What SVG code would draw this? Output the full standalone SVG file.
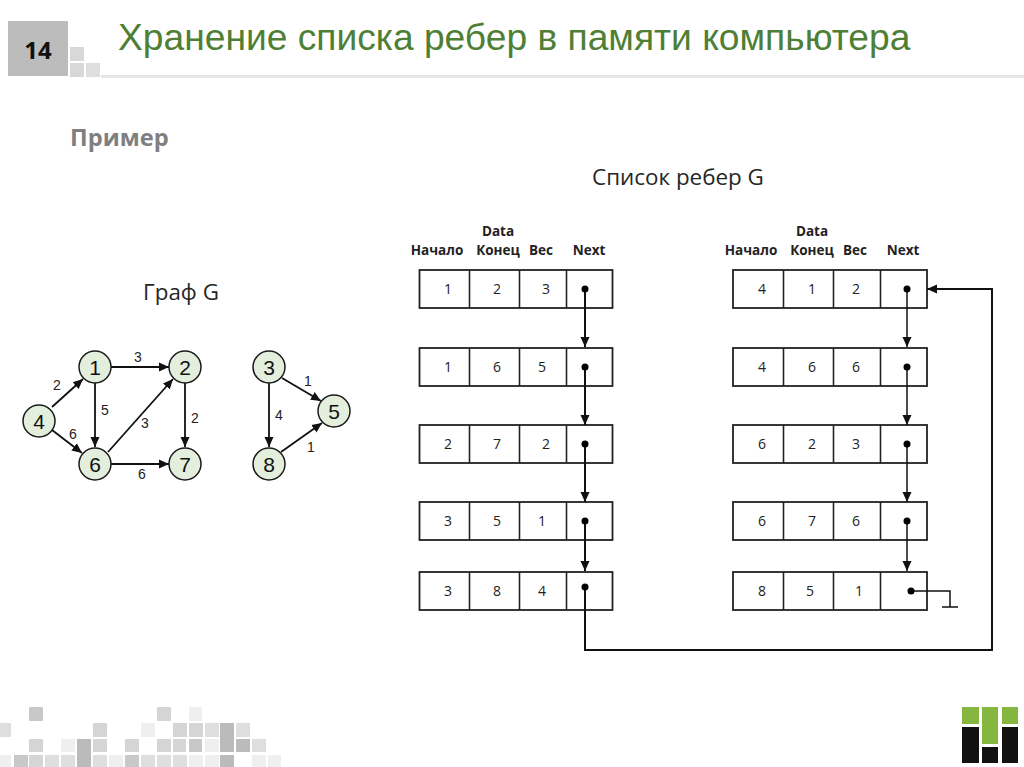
<svg xmlns="http://www.w3.org/2000/svg" width="1024" height="767" viewBox="0 0 1024 767">
<style>
.s{font-family:"Liberation Sans",Arial,sans-serif}
.c{font-family:"Open Sans","Noto Sans",sans-serif;font-size:14px;fill:#222;text-anchor:middle}
.h{font-family:"Open Sans","Noto Sans",sans-serif;font-size:13.500px;font-weight:700;fill:#222;text-anchor:middle}
.t{font-family:"Open Sans","Noto Sans",sans-serif;font-size:22.400px;fill:#262626;text-anchor:middle}
.n circle{fill:#e3efdc;stroke:#1a1a1a;stroke-width:1.5}
.n text{font-family:"Liberation Sans",Arial,sans-serif;font-size:21px;fill:#111;text-anchor:middle}
.w{font-family:"Liberation Sans",Arial,sans-serif;font-size:14px;fill:#222;text-anchor:middle}
.e{stroke:#111;stroke-width:1.800;fill:none;marker-end:url(#a)}
.l{stroke:#111;stroke-width:2;fill:none;marker-end:url(#b)}
.m{stroke:#111;stroke-width:1.500;fill:none;marker-end:url(#b)}
.p{stroke:#111;stroke-width:1.500;fill:none}
.box{fill:#fff;stroke:#222;stroke-width:1.800}
.div{stroke:#222;stroke-width:1.600}
.dot{fill:#000}
</style>
<defs>
<marker id="a" markerUnits="userSpaceOnUse" markerWidth="12" markerHeight="12" refX="10" refY="6" orient="auto"><path d="M0 1.500 L10 6 L0 10.500Z" fill="#111"/></marker>
<marker id="b" markerUnits="userSpaceOnUse" markerWidth="11" markerHeight="10" refX="10" refY="5" orient="auto"><path d="M0 0.500 L10 5 L0 9.500Z" fill="#111"/></marker>
<g id="rowL"><rect class="box" x="419.500" y="0" width="193" height="38"/><line class="div" x1="469.500" y1="0" x2="469.500" y2="38"/><line class="div" x1="519.500" y1="0" x2="519.500" y2="38"/><line class="div" x1="566.500" y1="0" x2="566.500" y2="38"/></g>
<g id="rowR"><rect class="box" x="733" y="0" width="194" height="38"/><line class="div" x1="783.500" y1="0" x2="783.500" y2="38"/><line class="div" x1="833.500" y1="0" x2="833.500" y2="38"/><line class="div" x1="880.500" y1="0" x2="880.500" y2="38"/></g>
</defs>
<rect width="1024" height="767" fill="#fff"/>
<g id="header">
<rect x="8" y="21" width="60" height="55" fill="#bcbcbc"/>
<rect x="70" y="47" width="14" height="14" fill="#d8d8d8"/>
<rect x="70" y="63" width="14" height="14" fill="#d8d8d8"/>
<rect x="86" y="63" width="14" height="14" fill="#dedede"/>
<rect x="101" y="75" width="923" height="3" fill="#e6e6e6"/>
<text x="38" y="59" font-family="'Open Sans','Noto Sans',sans-serif" font-size="24" font-weight="700" fill="#111" text-anchor="middle">14</text>
<text class="s" x="118" y="50" font-size="37.200" fill="#4e7f35">Хранение списка ребер в памяти компьютера</text>
<text x="70" y="146" font-family="'Open Sans','Noto Sans',sans-serif" font-size="23.700" font-weight="700" fill="#7f7f7f">Пример</text>
<text class="t" x="678" y="185">Список ребер G</text>
<text class="t" x="181" y="300">Граф G</text>
</g>
<g id="list-bg">
<use href="#rowL" y="270"/><use href="#rowL" y="348"/><use href="#rowL" y="425"/><use href="#rowL" y="502"/><use href="#rowL" y="572"/>
<use href="#rowR" y="270"/><use href="#rowR" y="348"/><use href="#rowR" y="425"/><use href="#rowR" y="502"/><use href="#rowR" y="572"/>
</g>
<g id="connectors">
<line class="e" x1="111" y1="367" x2="169" y2="367"/>
<line class="e" x1="95" y1="383" x2="95" y2="447"/>
<line class="e" x1="52" y1="407" x2="83" y2="379"/>
<line class="e" x1="52" y1="430" x2="82" y2="453"/>
<line class="e" x1="108" y1="452" x2="173" y2="379"/>
<line class="e" x1="111" y1="464" x2="169" y2="464"/>
<line class="e" x1="185" y1="383" x2="185" y2="447"/>
<line class="e" x1="269" y1="383" x2="269" y2="447"/>
<line class="e" x1="282" y1="378" x2="321" y2="401"/>
<line class="e" x1="281" y1="452" x2="322" y2="423"/>
<line class="l" x1="585" y1="289" x2="585" y2="347"/>
<line class="l" x1="585" y1="367" x2="585" y2="425"/>
<line class="l" x1="585" y1="444" x2="585" y2="502"/>
<line class="l" x1="585" y1="521" x2="585" y2="571"/>
<line class="m" x1="907" y1="289" x2="907" y2="347"/>
<line class="m" x1="907" y1="367" x2="907" y2="425"/>
<line class="m" x1="907" y1="444" x2="907" y2="502"/>
<line class="m" x1="907" y1="521" x2="907" y2="571"/>
<path class="l" d="M585 587V650H992V289H927"/>
<path class="p" d="M911 591H950V607M942 607H958"/>
</g>
<g class="w">
<text x="138" y="362">3</text><text x="57" y="390">2</text><text x="105" y="415">5</text><text x="73" y="439">6</text><text x="145" y="428">3</text><text x="195" y="423">2</text><text x="142" y="479">6</text><text x="279" y="420">4</text><text x="308" y="386">1</text><text x="311" y="452">1</text>
</g>
<g id="n1" class="n"><circle cx="95" cy="367" r="16"/><text x="95" y="374.500">1</text></g>
<g id="n2" class="n"><circle cx="185" cy="367" r="16"/><text x="185" y="374.500">2</text></g>
<g id="n4" class="n"><circle cx="39" cy="421" r="16"/><text x="39" y="428.500">4</text></g>
<g id="n6" class="n"><circle cx="95" cy="464" r="16"/><text x="95" y="471.500">6</text></g>
<g id="n7" class="n"><circle cx="185" cy="464" r="16"/><text x="185" y="471.500">7</text></g>
<g id="n3" class="n"><circle cx="269" cy="367" r="16"/><text x="269" y="374.500">3</text></g>
<g id="n5" class="n"><circle cx="334" cy="411" r="16"/><text x="334" y="418.500">5</text></g>
<g id="n8" class="n"><circle cx="269" cy="464" r="16"/><text x="269" y="471.500">8</text></g>
<g id="list-left-head">
<text class="h" x="498" y="236">Data</text><text class="h" x="437" y="255">Начало</text><text class="h" x="498" y="255">Конец</text><text class="h" x="541" y="255">Вес</text><text class="h" x="589" y="255">Next</text>
</g>
<g id="list-right-head">
<text class="h" x="812" y="236">Data</text><text class="h" x="751" y="255">Начало</text><text class="h" x="812" y="255">Конец</text><text class="h" x="855" y="255">Вес</text><text class="h" x="903" y="255">Next</text>
</g>
<g id="l1"><text class="c" x="448" y="294">1</text><text class="c" x="497" y="294">2</text><text class="c" x="546" y="294">3</text><circle class="dot" cx="585" cy="289" r="3.500"/></g>
<g id="l2"><text class="c" x="448" y="372">1</text><text class="c" x="497" y="372">6</text><text class="c" x="542" y="372">5</text><circle class="dot" cx="585" cy="367" r="3.500"/></g>
<g id="l3"><text class="c" x="448" y="449">2</text><text class="c" x="497" y="449">7</text><text class="c" x="546" y="449">2</text><circle class="dot" cx="585" cy="444" r="3.500"/></g>
<g id="l4"><text class="c" x="448" y="526">3</text><text class="c" x="497" y="526">5</text><text class="c" x="542" y="526">1</text><circle class="dot" cx="585" cy="521" r="3.500"/></g>
<g id="l5"><text class="c" x="448" y="596">3</text><text class="c" x="497" y="596">8</text><text class="c" x="542" y="596">4</text><circle class="dot" cx="585" cy="587" r="3.500"/></g>
<g id="r1"><text class="c" x="762" y="294">4</text><text class="c" x="812" y="294">1</text><text class="c" x="856" y="294">2</text><circle class="dot" cx="907" cy="289" r="3.500"/></g>
<g id="r2"><text class="c" x="762" y="372">4</text><text class="c" x="812" y="372">6</text><text class="c" x="856" y="372">6</text><circle class="dot" cx="907" cy="367" r="3.500"/></g>
<g id="r3"><text class="c" x="762" y="449">6</text><text class="c" x="812" y="449">2</text><text class="c" x="856" y="449">3</text><circle class="dot" cx="907" cy="444" r="3.500"/></g>
<g id="r4"><text class="c" x="762" y="526">6</text><text class="c" x="812" y="526">7</text><text class="c" x="856" y="526">6</text><circle class="dot" cx="907" cy="521" r="3.500"/></g>
<g id="r5"><text class="c" x="762" y="596">8</text><text class="c" x="810" y="596">5</text><text class="c" x="859" y="596">1</text><circle class="dot" cx="911" cy="591" r="3.500"/></g>
<g id="footer">
<path fill="#c8c8c8" d="M29 707h14v14h-14zM14 755h14v12h-14zM125 755h14v12h-14zM189 739h13v13h-13z"/>
<path fill="#bbb" d="M77 739h14v28h-14zM220 723h14v29h-14zM236 739h14v13h-14zM220 755h14v12h-14z"/>
<path fill="#d5d5d5" d="M157 707h14v14h-14zM93 723h14v14h-14zM173 723h14v14h-14zM189 723h14v14h-14zM29 739h14v13h-14zM93 739h14v13h-14zM125 739h14v13h-14zM157 739h14v13h-14zM173 739h13v13h-13zM29 755h14v12h-14z"/>
<path fill="#dedede" d="M0 723h11v14h-11zM205 723h14v14h-14zM236 723h14v14h-14zM252 739h14v13h-14zM45 755h14v12h-14zM61 755h14v12h-14zM93 755h14v12h-14zM141 755h14v12h-14zM157 755h14v12h-14zM173 755h14v12h-14z"/>
<path fill="#efefef" d="M189 707h13v14h-13zM141 723h14v14h-14zM61 739h14v13h-14zM205 739h14v13h-14zM0 755h11v12h-11zM109 755h14v12h-14zM189 755h14v12h-14zM205 755h14v12h-14zM252 755h14v12h-14zM268 755h13v12h-13z"/>
<path fill="#85b63f" d="M962 707h17v17h-17zM982 707h16v37h-16zM1002 707h16v17h-16z"/>
<path fill="#111" d="M962 727h17v36h-17zM982 747h16v16h-16zM1002 727h16v36h-16z"/>
</g>
</svg>
